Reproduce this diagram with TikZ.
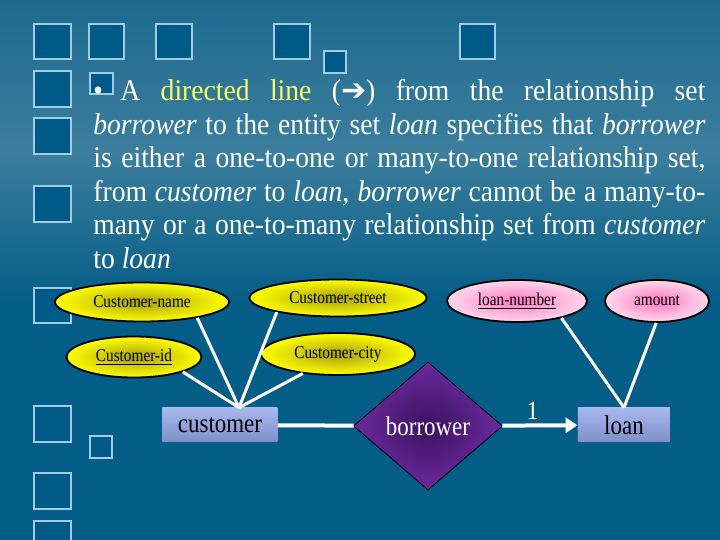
\documentclass[tikz,border=0pt]{standalone}
\usepackage{fontspec}
\setmainfont{Liberation Serif}[FakeStretch=0.92]
\newfontfamily\labelfont{Liberation Serif}[FakeStretch=0.85]
\newfontfamily\symfont{DejaVu Sans}
\usepackage{xcolor}
\usepackage{tikz}
\usetikzlibrary{shapes.geometric, arrows.meta, positioning, calc}

\definecolor{bgtop}{HTML}{1D6A8F}
\definecolor{bglight}{HTML}{3C7E9D}
\definecolor{bgbot}{HTML}{045D86}
\definecolor{boxfill}{HTML}{005A88}
\definecolor{boxline}{HTML}{A0CCE4}
\definecolor{attrin}{HTML}{A8A010}
\definecolor{attrout}{HTML}{FFFF00}
\definecolor{keyin}{HTML}{FF78C0}
\definecolor{keyout}{HTML}{FFD8EC}
\definecolor{enttop}{HTML}{A6B8EE}
\definecolor{entbot}{HTML}{7E90C8}
\definecolor{diain}{HTML}{3A1260}
\definecolor{diaout}{HTML}{6C2A9E}
\definecolor{hilite}{HTML}{FFFF66}

\pgfdeclareverticalshading{slidebg}{100bp}{color(0bp)=(bgbot); color(47bp)=(bgbot); color(61bp)=(bglight); color(75bp)=(bgtop); color(100bp)=(bgtop)}

\newcommand{\fullline}[1]{\makebox[306pt][s]{#1}}

\begin{document}
\begin{tikzpicture}[
        x=0.5pt, y=-0.5pt,
        % box styles
        decobox/.style={draw=boxline, fill=boxfill, line width=0.8pt},
        entity/.style={rectangle, top color=enttop, bottom color=entbot, minimum height=17pt, inner sep=0pt, font=\labelfont\fontsize{13.5}{15}\selectfont},
        relation/.style={diamond, draw=black, line width=0.4pt, inner color=diain, outer color=diaout, text=white, inner sep=0pt, font=\labelfont\fontsize{13.5}{15}\selectfont},
        attr/.style={ellipse, draw=black, line width=0.9pt, inner color=attrin, outer color=attrout, inner sep=0pt, font=\labelfont\fontsize{9}{10}\selectfont},
        loanattr/.style={attr, inner color=keyin, outer color=keyout},
        link/.style={white, line width=1.5pt},
        thicklink/.style={white, line width=2pt}
    ]

    % --- background ---
    \useasboundingbox (0,0) rectangle (720,540);
    \shade[shading=slidebg] (0,0) rectangle (720,540);

    \foreach \xa/\ya/\xb/\yb in {34/24/71/59, 89/24/124/59, 156/24/192/59, 274/24/310/59, 460/24/495/59,
        324/51/346/73, 34/71/71/107, 34/118/71/154, 34/186/71/222, 34/288/71/323,
        34/406/71/442, 34/473/71/509, 34/521/71/557, 90/73/113/94, 90/436/112/458}
        \draw[decobox] (\xa,\ya) rectangle (\xb,\yb);

    % --- text ---
    \node[anchor=north west, inner sep=0pt, text=white, align=left, font=\fontsize{15}{16.8}\selectfont] (para) at (93,79) {%
        \fullline{\makebox[13.5pt][l]{•}A \textcolor{hilite}{directed line} ({\symfont ➔}) from the relationship set}\\
        \fullline{\emph{borrower} to the entity set \emph{loan} specifies that \emph{borrower}}\\
        \fullline{is either a one-to-one or many-to-one relationship set,}\\
        \fullline{from \emph{customer} to \emph{loan, borrower} cannot be a many-to-}\\
        \fullline{many or a one-to-many relationship set from \emph{customer}}\\
        to \emph{loan}};

    % --- E-R diagram ---
    \node[attr, minimum width=87pt, minimum height=19.5pt] (cname) at (142,302) {Customer-name};
    \node[attr, minimum width=88.5pt, minimum height=18.5pt] (cstreet) at (338,298) {Customer-street};
    \node[attr, minimum width=67.5pt, minimum height=20.5pt] (cid) at (134,357) {\underline{Customer-id}};
    \node[attr, minimum width=77pt, minimum height=21pt] (ccity) at (338,354) {Customer-city};
    \node[loanattr, minimum width=70pt, minimum height=21pt] (lnumber) at (517,301) {\underline{loan-number}};
    \node[loanattr, minimum width=52pt, minimum height=21pt] (lamount) at (657,301) {amount};

    \node[entity, minimum width=57.5pt] (customer) at (220,425) {customer};
    \node[relation, minimum width=74.5pt, minimum height=64pt] (borrower) at (428,426) {borrower};
    \node[entity, minimum width=46pt] (loan) at (624,425) {loan};

    \coordinate (custtop) at ($(customer.north)+(19,0)$);

    % attribute links
    \draw[link] (cname.-16) -- (custtop);
    \draw[link] (cstreet.193) -- (custtop);
    \draw[link] (cid.-17) -- (custtop);
    \draw[link] (ccity.209) -- (custtop);
    \draw[link] (lnumber.-21) -- (loan.north);
    \draw[link] (lamount.-92) -- (loan.north);

    % relationship links
    \draw[thicklink] (customer) -- (borrower);
    \draw[thicklink, -{Triangle[length=6pt, width=7.5pt]}] (borrower) -- node[above, pos=0.4, text=white, inner sep=2pt, font=\fontsize{13}{14}\selectfont] {1} (loan);

\end{tikzpicture}
\end{document}
